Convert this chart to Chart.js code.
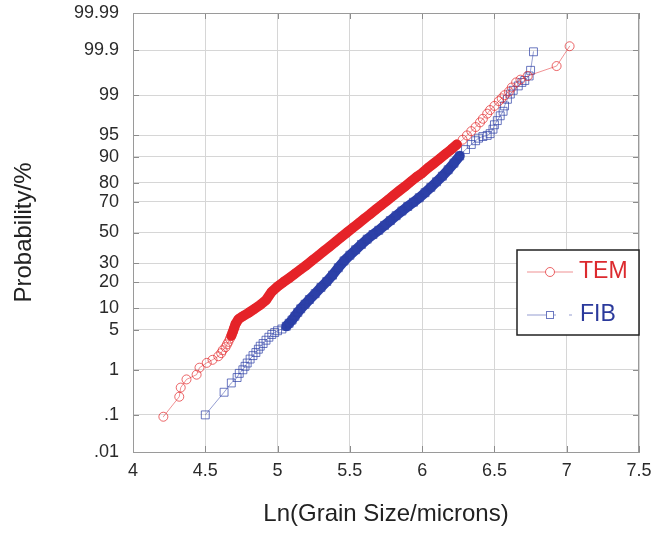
<!DOCTYPE html>
<html>
<head>
<meta charset="utf-8">
<script src="https://cdn.jsdelivr.net/npm/chart.js@4/dist/chart.umd.min.js"></script>
<style>
  body { margin: 0; background: #fff; }
  canvas { display: block; }
</style>
</head>
<body>
<canvas id="probChart" width="652" height="533"></canvas>
<script>
// TEM: ln(grain size) and cumulative probability (%)
var temX = [4.21, 4.32, 4.33, 4.37, 4.44, 4.46, 4.51, 4.55, 4.59, 4.61, 4.62, 4.64, 4.65, 4.66, 4.67, 4.68,
  4.69, 4.70, 4.71, 4.73, 4.76, 4.80, 4.84, 4.88, 4.92, 4.96, 5.00, 5.04, 5.08, 5.12, 5.16, 5.20,
  5.24, 5.28, 5.32, 5.36, 5.40, 5.44, 5.48, 5.52, 5.56, 5.60, 5.64, 5.68, 5.72, 5.76, 5.80, 5.84,
  5.88, 5.92, 5.96, 6.00, 6.04, 6.08, 6.12, 6.16, 6.20, 6.24, 6.28, 6.31, 6.34, 6.37, 6.40, 6.42,
  6.45, 6.47, 6.50, 6.53, 6.55, 6.57, 6.60, 6.62, 6.65, 6.68, 6.73, 6.93, 7.02];
var temP = [0.09, 0.27, 0.43, 0.64, 0.8, 1.1, 1.36, 1.55, 1.8, 2.05, 2.3, 2.6, 2.9, 3.2, 3.6, 4.0,
  4.6, 5.3, 6.1, 7.1, 7.8, 8.7, 9.8, 11.0, 12.6, 15.8, 18.0, 20.0, 22.0, 24.2, 26.6, 29.0,
  31.8, 34.6, 37.6, 40.6, 43.7, 46.9, 50.0, 53.1, 56.2, 59.3, 62.2, 65.2, 68.0, 70.7, 73.4, 75.9,
  78.2, 80.5, 82.6, 84.3, 86.3, 87.9, 89.4, 90.8, 92.0, 93.2, 94.2, 95.0, 95.7, 96.3, 96.9, 97.3,
  97.8, 98.1, 98.4, 98.7, 98.85, 99.0, 99.15, 99.3, 99.45, 99.52, 99.6, 99.76, 99.92];

// FIB: ln(grain size) and cumulative probability (%)
var fibX = [4.50, 4.63, 4.68, 4.72, 4.735, 4.76, 4.775, 4.79, 4.81, 4.83, 4.85, 4.867, 4.88, 4.90, 4.92, 4.94,
  4.96, 4.98, 5.00, 5.03, 5.06, 5.08, 5.10, 5.12, 5.14, 5.16, 5.19, 5.22, 5.26, 5.30, 5.34, 5.38,
  5.42, 5.46, 5.50, 5.54, 5.58, 5.62, 5.66, 5.70, 5.74, 5.78, 5.82, 5.86, 5.90, 5.94, 5.98, 6.02,
  6.06, 6.10, 6.14, 6.18, 6.22, 6.26, 6.30, 6.34, 6.37, 6.39, 6.42, 6.45, 6.47, 6.49, 6.50, 6.52,
  6.54, 6.56, 6.57, 6.59, 6.61, 6.63, 6.665, 6.69, 6.71, 6.74, 6.75, 6.77];
var fibP = [0.1, 0.34, 0.54, 0.7, 0.85, 1.0, 1.17, 1.35, 1.6, 1.85, 2.1, 2.4, 2.7, 3.0, 3.4, 3.8,
  4.2, 4.5, 4.8, 5.1, 5.6, 6.2, 6.9, 7.8, 8.8, 9.8, 11.2, 12.8, 15.0, 17.6, 20.3, 23.5,
  27.5, 31.5, 35.0, 38.5, 42.0, 45.5, 48.6, 51.5, 54.8, 58.0, 61.2, 64.2, 67.0, 69.6, 72.2, 75.0,
  77.8, 80.5, 83.0, 85.6, 88.0, 90.3, 92.0, 93.2, 94.0, 94.5, 94.8, 95.0, 95.3, 96.0, 96.6, 97.1,
  97.6, 98.0, 98.4, 98.8, 99.05, 99.2, 99.35, 99.45, 99.5, 99.6, 99.7, 99.89];

var xTicks = [4, 4.5, 5, 5.5, 6, 6.5, 7, 7.5];
var probTicks = [0.01, 0.1, 1, 5, 10, 20, 30, 50, 70, 80, 90, 95, 99, 99.9, 99.99];
var probLabels = [".01", ".1", "1", "5", "10", "20", "30", "50", "70", "80", "90", "95", "99", "99.9", "99.99"];

// inverse normal CDF (probability paper axis)
function probit(p) {
  var a = [-39.69683028665376, 220.9460984245205, -275.9285104469687, 138.3577518672690, -30.66479806614716, 2.506628277459239];
  var b = [-54.47609879822406, 161.5858368580409, -155.6989798598866, 66.80131188771972, -13.28068155288572];
  var c = [-0.007784894002430293, -0.3223964580411365, -2.400758277161838, -2.549732539343734, 4.374664141464968, 2.938163982698783];
  var d = [0.007784695709041462, 0.3224671290700398, 2.445134137142996, 3.754408661907416];
  var q, r;
  if (p < 0.02425) {
    q = Math.sqrt(-2 * Math.log(p));
    return (((((c[0] * q + c[1]) * q + c[2]) * q + c[3]) * q + c[4]) * q + c[5]) / ((((d[0] * q + d[1]) * q + d[2]) * q + d[3]) * q + 1);
  }
  if (p > 1 - 0.02425) {
    q = Math.sqrt(-2 * Math.log(1 - p));
    return -(((((c[0] * q + c[1]) * q + c[2]) * q + c[3]) * q + c[4]) * q + c[5]) / ((((d[0] * q + d[1]) * q + d[2]) * q + d[3]) * q + 1);
  }
  q = p - 0.5;
  r = q * q;
  return (((((a[0] * r + a[1]) * r + a[2]) * r + a[3]) * r + a[4]) * r + a[5]) * q / (((((b[0] * r + b[1]) * r + b[2]) * r + b[3]) * r + b[4]) * r + 1);
}

function toPoints(xs, ps) {
  return xs.map(function (x, i) {
    return { x: x, y: probit(ps[i] / 100) };
  });
}

// thick band where markers overlap densely
function bandSegment(lo, hi, color) {
  var zLo = probit(lo / 100);
  var zHi = probit(hi / 100);
  function inBand(c) {
    return c.p0.parsed.y >= zLo && c.p1.parsed.y <= zHi;
  }
  return {
    borderWidth: function (c) { return inBand(c) ? 10 : undefined; },
    borderColor: function (c) { return inBand(c) ? color : undefined; },
  };
}

var temRed = "rgb(230, 34, 40)";
var fibBlue = "rgb(44, 64, 168)";

var framePlugin = {
  id: "frame",
  afterDatasetsDraw: function (chart) {
    var ctx = chart.ctx;
    var area = chart.chartArea;
    var xs = chart.scales.x;
    var ys = chart.scales.y;
    ctx.save();
    // inner tick marks
    ctx.strokeStyle = "#8c8c8c";
    ctx.lineWidth = 1;
    ctx.beginPath();
    ys.ticks.forEach(function (t) {
      var py = Math.round(ys.getPixelForValue(t.value)) + 0.5;
      ctx.moveTo(area.left, py); ctx.lineTo(area.left + 6, py);
      ctx.moveTo(area.right, py); ctx.lineTo(area.right - 6, py);
    });
    xs.ticks.forEach(function (t) {
      var px = Math.round(xs.getPixelForValue(t.value)) + 0.5;
      ctx.moveTo(px, area.top); ctx.lineTo(px, area.top + 6);
      ctx.moveTo(px, area.bottom); ctx.lineTo(px, area.bottom - 6);
    });
    ctx.stroke();
    ctx.strokeStyle = "#9a9a9a";
    ctx.strokeRect(area.left + 0.5, area.top + 0.5, area.right - area.left - 1, area.bottom - area.top);

    // legend box
    var bx = area.right - 122, by = 250, bw = 122, bh = 85;
    ctx.fillStyle = "#fff";
    ctx.fillRect(bx, by, bw, bh);
    ctx.strokeStyle = "#222";
    ctx.lineWidth = 1.5;
    ctx.strokeRect(bx, by, bw, bh);

    ctx.lineWidth = 1;
    ctx.strokeStyle = "rgba(226, 38, 42, 0.5)";
    ctx.beginPath();
    ctx.moveTo(bx + 10, by + 22); ctx.lineTo(bx + 56, by + 22);
    ctx.stroke();
    ctx.strokeStyle = "rgba(226, 38, 42, 0.7)";
    ctx.fillStyle = "#fff";
    ctx.beginPath();
    ctx.arc(bx + 33, by + 22, 4.5, 0, Math.PI * 2);
    ctx.fill();
    ctx.stroke();

    ctx.strokeStyle = "rgba(44, 62, 165, 0.5)";
    ctx.beginPath();
    ctx.moveTo(bx + 10, by + 65); ctx.lineTo(bx + 39, by + 65);
    ctx.moveTo(bx + 52, by + 65); ctx.lineTo(bx + 55, by + 65);
    ctx.stroke();
    ctx.strokeStyle = "rgba(44, 62, 165, 0.7)";
    ctx.fillRect(bx + 29, by + 61, 8, 8);
    ctx.strokeRect(bx + 29.5, by + 61.5, 7, 7);

    ctx.font = "23px 'Liberation Sans', Arial, sans-serif";
    ctx.textBaseline = "middle";
    ctx.textAlign = "left";
    ctx.fillStyle = "#dc2a2e";
    ctx.fillText("TEM", bx + 62, by + 22);
    ctx.fillStyle = "#2b3a9c";
    ctx.fillText("FIB", bx + 63, by + 65);
    ctx.restore();
  },
};

Chart.defaults.font.family = "'Liberation Sans', Arial, sans-serif";

var ctx = document.getElementById("probChart").getContext("2d");

var probChart = new Chart(ctx, {
  type: "scatter",
  data: {
    datasets: [
      {
        label: "TEM",
        data: toPoints(temX, temP),
        showLine: true,
        borderColor: "rgba(226, 38, 42, 0.5)",
        borderWidth: 1,
        borderCapStyle: "round",
        borderJoinStyle: "round",
        pointStyle: "circle",
        pointRadius: 4.5,
        pointBorderWidth: 1,
        pointBorderColor: "rgba(226, 38, 42, 0.7)",
        pointBackgroundColor: "rgba(255, 255, 255, 0)",
        segment: bandSegment(4, 94, temRed),
      },
      {
        label: "FIB",
        data: toPoints(fibX, fibP),
        showLine: true,
        borderColor: "rgba(44, 62, 165, 0.5)",
        borderWidth: 1,
        borderCapStyle: "round",
        borderJoinStyle: "round",
        pointStyle: "rect",
        pointRadius: 5.6,
        pointBorderWidth: 1,
        pointBorderColor: "rgba(44, 62, 165, 0.7)",
        pointBackgroundColor: "rgba(255, 255, 255, 0)",
        segment: bandSegment(5.5, 91, fibBlue),
      },
    ],
  },
  options: {
    responsive: false,
    animation: false,
    layout: { padding: { top: 13, right: 13, left: 0, bottom: 0 } },
    plugins: {
      legend: { display: false },
      tooltip: { enabled: false },
    },
    scales: {
      x: {
        type: "linear",
        min: 4,
        max: 7.5,
        afterBuildTicks: function (scale) {
          scale.ticks = xTicks.map(function (v) { return { value: v }; });
        },
        afterFit: function (scale) {
          scale.height = 81;
          scale.paddingLeft = 0;
          scale.paddingRight = 0;
        },
        ticks: {
          callback: function (value) { return String(value); },
          padding: 8,
          autoSkip: false,
          maxRotation: 0,
          color: "#2a2a2a",
          font: { size: 18 },
        },
        grid: { color: "#d6d6d6", drawTicks: false },
        border: { color: "#9a9a9a" },
        title: {
          display: true,
          text: "Ln(Grain Size/microns)",
          color: "#222",
          font: { size: 24 },
          padding: { top: 0, bottom: 4 },
        },
      },
      y: {
        type: "linear",
        min: probit(0.0001),
        max: probit(0.9999),
        afterBuildTicks: function (scale) {
          scale.ticks = probTicks.map(function (p) { return { value: probit(p / 100) }; });
        },
        afterFit: function (scale) {
          scale.width = 133;
          scale.paddingTop = 0;
          scale.paddingBottom = 0;
        },
        ticks: {
          callback: function (value, index) { return probLabels[index]; },
          padding: 14,
          autoSkip: false,
          color: "#2a2a2a",
          font: { size: 18 },
        },
        grid: { color: "#d6d6d6", drawTicks: false },
        border: { color: "#9a9a9a" },
        title: {
          display: true,
          text: "Probability/%",
          color: "#222",
          font: { size: 24 },
          padding: { top: 10, bottom: 0 },
        },
      },
    },
  },
  plugins: [framePlugin],
});
</script>
</body>
</html>
